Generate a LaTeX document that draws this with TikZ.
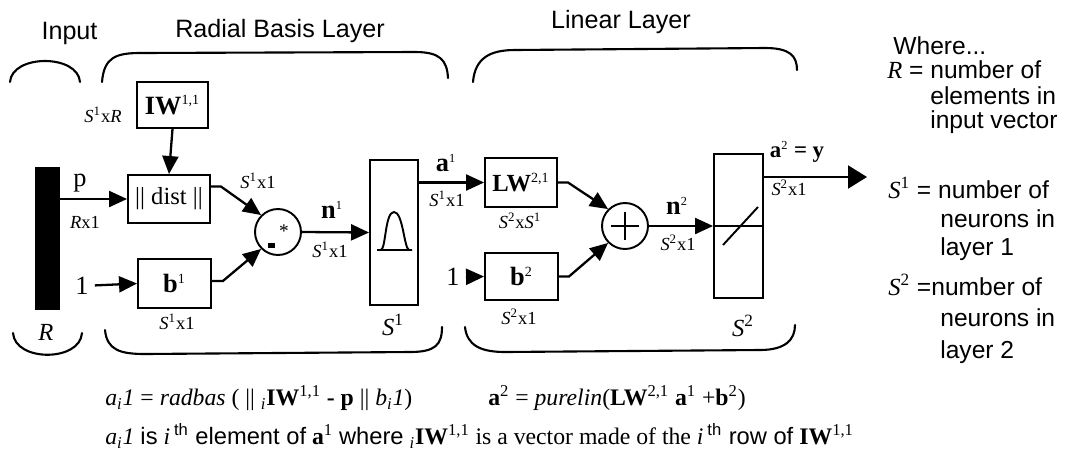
\documentclass[tikz,border=0pt]{standalone}
\usepackage{fontspec}
\setmainfont{Liberation Serif}
\setsansfont{Liberation Sans}
\usetikzlibrary{arrows.meta,calc}

\tikzset{
  blk/.style={draw, line width=1.1pt, inner sep=0pt, font=\fontsize{15}{15}\selectfont\bfseries},
  tfbox/.style={draw, line width=1.1pt, minimum width=0.96cm, minimum height=2.9cm},
  junc/.style={draw, circle, line width=1.1pt, minimum size=0.92cm, inner sep=0pt},
  arr/.style={line width=1.3pt, -{Triangle[length=0.36cm, width=0.32cm]}},
  brace/.style={line width=1.2pt, line cap=round},
  dimlbl/.style={font=\fontsize{10.5}{10.5}\selectfont},
  sig/.style={font=\fontsize{15}{15}\selectfont\bfseries},
  title/.style={font=\sffamily\fontsize{14.3}{14.3}\selectfont},
  legend/.style={anchor=west, inner sep=0pt, font=\sffamily\fontsize{14}{14}\selectfont},
  formula/.style={anchor=west, inner sep=0pt, font=\fontsize{13.5}{13.5}\selectfont},
}

\begin{document}
\begin{tikzpicture}[x=0.02cm, y=-0.02cm]
      \useasboundingbox (0,0) rectangle (1073,468);

      % Titles
      \node (TIN) [title] at (69.5,33) {Input};
      \node (TRB) [title] at (280,31) {Radial Basis Layer};
      \node (TLIN) [title] at (621,22) {Linear Layer};

      % Brackets
      \draw[brace] (10,82) .. controls (12,54) and (78,54) .. (80,82);
      \draw[brace] (102,82) .. controls (104,58) and (115,53) .. (140,53) -- (415,52) .. controls (440,52) and (447,60) .. (448,78);
      \draw[brace] (473,82) .. controls (475,58) and (490,50) .. (515,50) -- (765,48) .. controls (790,48) and (797,56) .. (797,70);
      \draw[brace] (13,333) .. controls (15,362) and (80,362) .. (82,333);
      \draw[brace] (105,330) .. controls (107,350) and (120,354) .. (145,354) -- (410,352) .. controls (435,352) and (442,345) .. (442,327);
      \draw[brace] (465,327) .. controls (467,345) and (480,352) .. (505,352) -- (760,350) .. controls (785,350) and (795,340) .. (795,325);

      % Input vector
      \node (BAR) [fill=black, minimum width=0.5cm, minimum height=2.86cm, inner sep=0pt] at (47.5,238.5) {};
      \node (RIN) [font=\fontsize{14}{14}\selectfont\itshape] at (46,332) {R};

      % Radial basis layer
      \node (IW) [blk, minimum width=1.42cm, minimum height=0.92cm] at (172.5,105) {IW\textsuperscript{\fontsize{8}{8}\selectfont\mdseries 1,1}};
      \node (DIST) [blk, minimum width=1.64cm, minimum height=0.96cm, font=\fontsize{14}{14}\selectfont] at (169,199) {|| dist ||};
      \node (B1) [blk, minimum width=1.46cm, minimum height=0.98cm] at (174.5,283.5) {b\textsuperscript{\fontsize{8}{8}\selectfont\mdseries 1}};
      \node (PROD) [junc] at (278,232) {};
      \node (TF1) [tfbox] at (394,232.5) {};
      \node (ONE1) [font=\fontsize{15}{15}\selectfont] at (82,286) {1};

      % Linear layer
      \node (LW) [blk, minimum width=1.44cm, minimum height=0.98cm, font=\fontsize{14}{14}\selectfont\bfseries] at (521,182.5) {LW\textsuperscript{\fontsize{8}{8}\selectfont\mdseries 2,1}};
      \node (B2) [blk, minimum width=1.46cm, minimum height=0.94cm] at (521.5,276.5) {b\textsuperscript{\fontsize{8}{8}\selectfont\mdseries 2}};
      \node (SUM) [junc] at (625,226) {};
      \node (TF2) [tfbox, minimum height=2.88cm, minimum width=0.98cm] at (738.5,226) {};
      \node (ONE2) [font=\fontsize{15}{15}\selectfont] at (453,277) {1};
      \coordinate (OUT) at (867,177);

      % Symbols inside junctions and transfer boxes
      \fill ($(PROD.center)+(-10,11)$) rectangle ++(7,5);
      \node (STAR) [inner sep=0pt, font=\fontsize{11}{11}\selectfont] at ($(PROD.center)+(6,-1)$) {*};
      \draw[line width=1.1pt] ($(SUM.center)+(-14,0)$) -- ($(SUM.center)+(14,0)$);
      \draw[line width=1.1pt] ($(SUM.center)+(0,-14)$) -- ($(SUM.center)+(0,14)$);
      \draw[line width=1.1pt] (377,250) -- (381,250) .. controls (386,248) and (385,212) .. (394,212)
        .. controls (403,212) and (404,248) .. (409,250) -- (412,250) -- cycle;
      \draw[line width=1.1pt] (TF2.west) -- (TF2.east);
      \draw[line width=1.1pt] (723,245) -- (758,207);

      % Connections
      \draw[arr] (BAR.east |- DIST.west) -- (DIST.west);
      \draw[arr] (IW.south) -- (DIST.north);
      \draw[arr] (ONE1) -- (B1.west);
      \draw[arr] ($(DIST.north east)!0.25!(DIST.south east)$) -- ++(10,0) -- (PROD.135);
      \draw[arr] ($(B1.north east)!0.45!(B1.south east)$) -- ++(11,0) -- (PROD.225);
      \draw[arr] (PROD.east) -- (TF1.west);
      \draw[arr] (TF1.east |- LW.west) -- (LW.west);
      \draw[arr] (ONE2) -- (B2.west);
      \draw[arr] (LW.east) -- ++(10,0) -- (SUM.135);
      \draw[arr] (B2.east) -- ++(10,0) -- (SUM.225);
      \draw[arr] (SUM.east) -- (TF2.west);
      \draw[line width=1.3pt, -{Triangle[length=0.38cm, width=0.46cm]}] (TF2.east |- OUT) -- (OUT);

      % Signal labels
      \node (LP) [sig, font=\fontsize{15}{15}\selectfont] at (80,183) {p};
      \node (LN1) [sig] at (332,210) {n\textsuperscript{\fontsize{7}{7}\selectfont\mdseries 1}};
      \node (LA1) [sig] at (446,163) {a\textsuperscript{\fontsize{7}{7}\selectfont\mdseries 1}};
      \node (LN2) [sig] at (677,206) {n\textsuperscript{\fontsize{7}{7}\selectfont\mdseries 2}};
      \node (LA2) [sig, font=\fontsize{13}{13}\selectfont\bfseries] at (797,152) {a\textsuperscript{\fontsize{7}{7}\selectfont\mdseries 2} = y};

      % Dimension labels
      \node (DRX) [dimlbl] at (85,222) {\textit{R}x1};
      \node (DIW) [dimlbl] at (103,115) {\textit{S}\textsuperscript{1}x\textit{R}};
      \node (DDIST) [dimlbl] at (258,181) {\textit{S}\textsuperscript{1}x1};
      \node (DB1) [dimlbl] at (177,322) {\textit{S}\textsuperscript{1}x1};
      \node (DN1) [dimlbl] at (330,250) {\textit{S}\textsuperscript{1}x1};
      \node (DA1) [dimlbl] at (447,199) {\textit{S}\textsuperscript{1}x1};
      \node (DLW) [dimlbl] at (520,221) {\textit{S}\textsuperscript{2}x\textit{S}\textsuperscript{1}};
      \node (DB2) [dimlbl] at (519,317) {\textit{S}\textsuperscript{2}x1};
      \node (DN2) [dimlbl] at (678,243) {\textit{S}\textsuperscript{2}x1};
      \node (DA2) [dimlbl] at (789,188) {\textit{S}\textsuperscript{2}x1};
      \node (LS1) [font=\fontsize{14}{14}\selectfont\itshape] at (393,325) {S\textsuperscript{\upshape 1}};
      \node (LS2) [font=\fontsize{14}{14}\selectfont\itshape] at (743,326) {S\textsuperscript{\upshape 2}};

      % Legend
      \node (WH) [legend] at (893,46) {Where...};
      \node (LR) [legend] at (887,70) {{\rmfamily\itshape R} = number of};
      \foreach \ty/\txt [count=\k] in {96/elements in, 122/input vector} {
          \node (LRA\k) [legend] at (930,\ty) {\txt};
        }
      \node (LS1D) [legend] at (888,188) {{\rmfamily\itshape S\textsuperscript{\upshape 1}} = number of};
      \node (LS2D) [legend] at (888,285) {{\rmfamily\itshape S\textsuperscript{\upshape 2}} =number of};
      \foreach \ty/\txt [count=\k] in {219/neurons in, 249/layer 1, 318/neurons in, 352/layer 2} {
          \node (LSN\k) [legend] at (940,\ty) {\txt};
        }

      % Formulas
      \node (F1) [formula] at (105,398) {\textit{a\textsubscript{i}1} = \textit{radbas} ( || \textsubscript{\textit{i}}\textbf{IW}\textsuperscript{1,1} \textbf{- p} || \textit{b\textsubscript{i}1})};
      \node (F2) [formula] at (488,398) {\textbf{a}\textsuperscript{2} = \textit{purelin}(\textbf{LW}\textsuperscript{2,1} \textbf{a}\textsuperscript{1} +\textbf{b}\textsuperscript{2})};
      \node (F3) [formula] at (105,436) {\textit{a\textsubscript{i}1} {\sffamily is} \textit{i}\,{\sffamily\textsuperscript{th} element of} \textbf{a}\textsuperscript{1} {\sffamily where} \textsubscript{\textit{i}}\textbf{IW}\textsuperscript{1,1} is a vector made of the \textit{i}\,{\sffamily\textsuperscript{th} row of} \textbf{IW}\textsuperscript{1,1}};
    \end{tikzpicture}
\end{document}
